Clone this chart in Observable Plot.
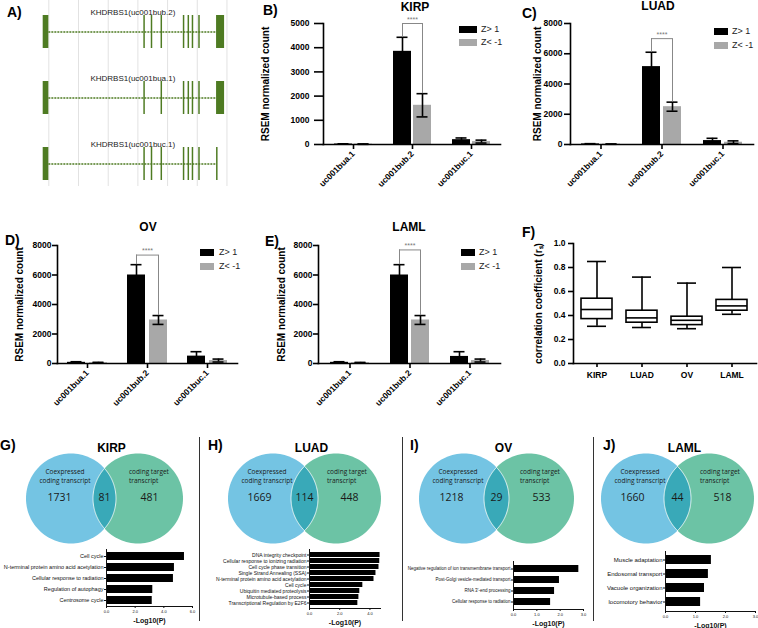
<!DOCTYPE html>
<html><head><meta charset="utf-8">
<script src="https://cdn.jsdelivr.net/npm/d3@7"></script>
<script src="https://cdn.jsdelivr.net/npm/@observablehq/plot@0.6"></script>
<style>
body{margin:0;background:#fff;}
#fig{position:relative;width:758px;height:628px;overflow:hidden;background:#fff;}
#fig svg{position:absolute;overflow:visible;}
#fig .yl g[aria-label="y-axis label"] text, #fig .yl g[aria-label="y-axis label"]{font-size:10px;font-weight:bold;}
#fig .go g[aria-label="x-axis label"] text, #fig .go g[aria-label="x-axis label"]{font-size:7px;font-weight:bold;}
#fig .go g[aria-label="x-axis tick label"]{font-size:4px;}
</style></head>
<body><div id="fig"></div>
<script>
// ---------------- data ----------------
const transcripts = ["uc001bua.1", "uc001bub.2", "uc001buc.1"];
const groups = ["Z> 1", "Z< -1"];

const kirpHigh = [20, 3850, 200], kirpHighErr = [10, 580, 70];
const kirpLow = [15, 1620, 120], kirpLowErr = [8, 480, 60];
const luadHigh = [40, 5150, 260], luadHighErr = [15, 950, 150];
const luadLow = [25, 2500, 150], luadLowErr = [10, 300, 90];
const ovHigh = [80, 6000, 500], ovHighErr = [40, 700, 300];
const ovLow = [50, 2950, 200], ovLowErr = [30, 300, 100];
const lamlHigh = [80, 6000, 480], lamlHighErr = [40, 700, 320];
const lamlLow = [50, 2950, 200], lamlLowErr = [25, 300, 100];
const bracketLevel = [5000, 7000, 7350, 7700];

const cohorts = ["KIRP", "LUAD", "OV", "LAML"];
const boxMin = [0.31, 0.30, 0.29, 0.41];
const boxQ1 = [0.37, 0.34, 0.32, 0.44];
const boxMedian = [0.45, 0.38, 0.36, 0.48];
const boxQ3 = [0.54, 0.44, 0.39, 0.53];
const boxMax = [0.85, 0.72, 0.67, 0.80];

const isoforms = ["KHDRBS1(uc001bub.2)", "KHDRBS1(uc001bua.1)", "KHDRBS1(uc001buc.1)"];
const exonStart = [
  [-0.19, 3.20, 3.45, 3.78, 4.53, 4.69, 4.83, 5.05, 5.65],
  [-0.19, 3.20, 3.78, 4.53, 4.69, 4.83, 5.05, 5.65],
  [-0.19, 3.20, 3.45, 3.78, 4.53, 4.69, 4.83, 5.05, 5.65]
];
const exonEnd = [
  [0, 3.25, 3.50, 3.83, 4.58, 4.74, 4.88, 5.10, 5.92],
  [0, 3.25, 3.83, 4.58, 4.74, 4.88, 5.10, 5.92],
  [0, 3.25, 3.50, 3.83, 4.58, 4.74, 4.88, 5.10, 5.70]
];
const geneGrid = [0, 1, 2, 3, 4, 5, 6];

const vennCoexpressed = [1731, 1669, 1218, 1660];
const vennShared = [81, 114, 29, 44];
const vennTarget = [481, 448, 533, 518];

const goKirpTerms = ["Cell cycle", "N-terminal protein amino acid acetylation", "Cellular response to radiation", "Regulation of autophagy", "Centrosome cycle"];
const goKirpValues = [5.44, 4.74, 4.67, 3.23, 3.19];
const goLuadTerms = ["DNA integrity checkpoint", "Cellular response to ionizing radiation", "Cell cycle phase transition", "Single Strand Annealing (SSA)", "N-terminal protein amino acid acetylation", "Cell cycle", "Ubiquitin mediated proteolysis", "Microtubule-based process", "Transcriptional Regulation by E2F6"];
const goLuadValues = [4.67, 4.65, 4.6, 4.4, 4.27, 3.53, 3.33, 3.27, 3.2];
const goOvTerms = ["Negative regulation of ion transmembrane transport", "Post-Golgi vesicle-mediated transport", "RNA 3'-end processing", "Cellular response to radiation"];
const goOvValues = [2.8, 1.97, 1.76, 1.59];
const goLamlTerms = ["Muscle adaptation", "Endosomal transport", "Vacuole organization", "locomotory behavior"];
const goLamlValues = [1.53, 1.43, 1.3, 1.17];

// ---------------- helpers ----------------
const FONT = '"Liberation Sans", Arial, Helvetica, sans-serif';
const GRAY = "#a8a8a8";
const fig = document.getElementById("fig");
function put(node, left, top, cls) {
  node.style.left = left + "px"; node.style.top = top + "px";
  if (cls) node.classList.add(cls);
  fig.appendChild(node); return node;
}
function txt(s, left, top, css = {}) {
  const d = document.createElement("div");
  d.textContent = s;
  Object.assign(d.style, {position: "absolute", left: left + "px", top: top + "px", lineHeight: "1", whiteSpace: "nowrap", fontFamily: FONT, color: "#000"}, css);
  fig.appendChild(d); return d;
}
const panel = (s, x, y) => txt(s, x, y, {fontSize: "14px", fontWeight: "bold"});
const title = (s, cx, y) => txt(s, cx, y, {fontSize: "12px", fontWeight: "bold", transform: "translateX(-50%)"});
function legend(x, y1, y2, w, tx) {
  [[y1, "#000", groups[0]], [y2, GRAY, groups[1]]].forEach(([y, c, s]) => {
    const b = document.createElement("div");
    Object.assign(b.style, {position: "absolute", left: x + "px", top: y + "px", width: w + "px", height: "7px", background: c});
    fig.appendChild(b);
    txt(s, tx, y - 1, {fontSize: "9px", color: "#222"});
  });
}

// ---------------- A: gene structures ----------------
const exonRows = isoforms.flatMap((iso, k) => exonStart[k].map((s, j) => ({iso, s, e: exonEnd[k][j]})));
const intronRows = isoforms.map((iso, k) => ({iso, s: exonEnd[k][0], e: exonStart[k][exonStart[k].length - 1]}));
const GREEN = "#4e7b22";
const plotA = Plot.plot({
  width: 250, height: 186, marginLeft: 42.4, marginRight: 17.6, marginTop: 0, marginBottom: 0,
  style: {fontFamily: FONT, fontSize: "8px", background: "transparent", color: "#222"},
  x: {domain: [-0.2, 6.2], axis: null},
  y: {domain: isoforms, paddingInner: 0.5, paddingOuter: 0.159, align: 0.71, axis: null},
  marks: [
    Plot.ruleX(geneGrid, {stroke: "#e2e2e2", strokeWidth: 1}),
    Plot.ruleY(intronRows, {y: "iso", x1: "s", x2: "e", stroke: GREEN, strokeWidth: 1.4, strokeDasharray: "2,1"}),
    Plot.barX(exonRows, {y: "iso", x1: "s", x2: "e", fill: GREEN}),
    Plot.text(isoforms, {y: d => d, text: d => d, dy: -20, dx: -5, fill: "#222"})
  ]
});
put(plotA, 0, 0);
panel("A)", 7, 5);

// ---------------- B-E: expression bars ----------------
function expressionChart(cfg) {
  const rows = transcripts.map((t, i) => ({t, high: cfg.high[i], highErr: cfg.highErr[i], low: cfg.low[i], lowErr: cfg.lowErr[i]}));
  const sig = [{t: transcripts[1], top: cfg.bracket, leftFrom: cfg.high[1] + cfg.highErr[1], rightFrom: cfg.low[1] + cfg.lowErr[1]}];
  const {width, height, ml, mr, mt, mb, barW, gap} = cfg;
  const bw = 2 * barW + gap;
  const step = (width - ml - mr) / transcripts.length;
  const pin = 1 - bw / step;
  const off = (barW + gap) / 2;
  const cap = 11;
  const hiCap = {insetLeft: barW / 2 - cap / 2, insetRight: bw - barW / 2 - cap / 2};
  const loCap = {insetLeft: bw - barW / 2 - cap / 2, insetRight: barW / 2 - cap / 2};
  const sw = 1.6;
  return Plot.plot({
    width, height, marginLeft: ml, marginRight: mr, marginTop: mt, marginBottom: mb,
    style: {fontFamily: FONT, fontSize: "8.5px", fontWeight: "bold", background: "transparent", color: "#000"},
    x: {type: "band", domain: transcripts, paddingInner: pin, paddingOuter: pin / 2},
    y: {domain: [0, cfg.yMax]},
    marks: [
      Plot.barY(rows, {x: "t", y: "high", fill: "#000", insetRight: barW + gap}),
      Plot.barY(rows, {x: "t", y: "low", fill: GRAY, insetLeft: barW + gap}),
      Plot.ruleX(rows, {x: "t", y1: d => d.high - d.highErr, y2: d => d.high + d.highErr, dx: -off, stroke: "#000", strokeWidth: sw}),
      Plot.ruleX(rows, {x: "t", y1: d => d.low - d.lowErr, y2: d => d.low + d.lowErr, dx: off, stroke: "#000", strokeWidth: sw}),
      Plot.tickY(rows, {x: "t", y: d => d.high + d.highErr, ...hiCap, stroke: "#000", strokeWidth: sw}),
      Plot.tickY(rows, {x: "t", y: d => d.low + d.lowErr, ...loCap, stroke: "#000", strokeWidth: sw}),
      Plot.tickY(rows, {x: "t", y: d => d.low - d.lowErr, ...loCap, stroke: "#000", strokeWidth: sw}),
      Plot.ruleX(sig, {x: "t", y1: "leftFrom", y2: "top", dx: -off, stroke: "#888", strokeWidth: 1}),
      Plot.ruleX(sig, {x: "t", y1: "rightFrom", y2: "top", dx: off, stroke: "#888", strokeWidth: 1}),
      Plot.tickY(sig, {x: "t", y: "top", insetLeft: barW / 2, insetRight: barW / 2, stroke: "#888", strokeWidth: 1}),
      Plot.text(sig, {x: "t", y: "top", text: () => "****", dy: -4, fill: "#777", fontSize: 7, fontWeight: "normal"}),
      Plot.axisY({ticks: cfg.yTicks, tickFormat: "d", tickSize: cfg.tickSize, tickPadding: cfg.tickPadding, strokeWidth: sw,
        label: "RSEM normalized count", labelAnchor: "center", labelArrow: "none", labelOffset: cfg.labelOffset}),
      Plot.axisX({tickRotate: -45, tickSize: 5, tickPadding: 3, strokeWidth: sw, label: null}),
      Plot.frame({anchor: "left", strokeWidth: sw}),
      Plot.frame({anchor: "bottom", strokeWidth: sw})
    ]
  });
}
const ticks5k = [0, 1000, 2000, 3000, 4000, 5000];
const ticks8k = [0, 2000, 4000, 6000, 8000];

put(expressionChart({high: kirpHigh, highErr: kirpHighErr, low: kirpLow, lowErr: kirpLowErr, bracket: bracketLevel[0],
  yMax: 5000, yTicks: ticks5k, width: 258, height: 200, ml: 73, mr: 8, mt: 23, mb: 56, barW: 18, gap: 2,
  tickSize: 9, tickPadding: 5, labelOffset: 62}), 250, 0, "yl");
put(expressionChart({high: luadHigh, highErr: luadHighErr, low: luadLow, lowErr: luadLowErr, bracket: bracketLevel[1],
  yMax: 8000, yTicks: ticks8k, width: 253, height: 200, ml: 65, mr: 5, mt: 23, mb: 56, barW: 18, gap: 3,
  tickSize: 6, tickPadding: 2, labelOffset: 37}), 505, 0, "yl");
put(expressionChart({high: ovHigh, highErr: ovHighErr, low: ovLow, lowErr: ovLowErr, bracket: bracketLevel[2],
  yMax: 8000, yTicks: ticks8k, width: 250, height: 200, ml: 57, mr: 13, mt: 23, mb: 59, barW: 18, gap: 4,
  tickSize: 5, tickPadding: 1, labelOffset: 42}), 0, 222, "yl");
put(expressionChart({high: lamlHigh, highErr: lamlHighErr, low: lamlLow, lowErr: lamlLowErr, bracket: bracketLevel[3],
  yMax: 8000, yTicks: ticks8k, width: 258, height: 200, ml: 68, mr: 8, mt: 23, mb: 59, barW: 18, gap: 3,
  tickSize: 5, tickPadding: 1, labelOffset: 41}), 250, 222, "yl");

panel("B)", 263, 3); title("KIRP", 415, 1);
panel("C)", 522, 6); title("LUAD", 658, 0);
panel("D)", 5, 233); title("OV", 148, 221);
panel("E)", 265, 234); title("LAML", 409, 221);
legend(459, 26, 39, 18, 481);
legend(714, 28, 42, 14, 732);
legend(200, 249, 263, 14, 219);
legend(461, 249, 263, 14, 479);

// ---------------- F: box plot ----------------
const boxRows = cohorts.map((c, i) => ({c, min: boxMin[i], q1: boxQ1[i], med: boxMedian[i], q3: boxQ3[i], max: boxMax[i]}));
const plotF = Plot.plot({
  width: 253, height: 240, marginLeft: 68, marginRight: 2, marginTop: 83, marginBottom: 37,
  style: {fontFamily: FONT, fontSize: "8.5px", fontWeight: "bold", background: "transparent", color: "#000"},
  x: {type: "band", domain: cohorts, paddingInner: 0.3, paddingOuter: 0.15},
  y: {domain: [0, 1]},
  marks: [
    Plot.ruleX(boxRows, {x: "c", y1: "min", y2: "q1", strokeWidth: 1.6}),
    Plot.ruleX(boxRows, {x: "c", y1: "q3", y2: "max", strokeWidth: 1.6}),
    Plot.barY(boxRows, {x: "c", y1: "q1", y2: "q3", fill: "white", stroke: "#000", strokeWidth: 1.6}),
    Plot.tickY(boxRows, {x: "c", y: "med", strokeWidth: 1.6}),
    Plot.tickY(boxRows, {x: "c", y: "max", insetLeft: 6, insetRight: 6, strokeWidth: 1.6}),
    Plot.tickY(boxRows, {x: "c", y: "min", insetLeft: 6, insetRight: 6, strokeWidth: 1.6}),
    Plot.axisY({ticks: [0, 0.2, 0.4, 0.6, 0.8, 1.0], tickFormat: ".1f", tickSize: 5, tickPadding: 3, strokeWidth: 1.6,
      label: "correlation coefficient (rₛ)", labelAnchor: "center", labelArrow: "none", labelOffset: 39}),
    Plot.axisX({tickSize: 4, tickPadding: 4, strokeWidth: 1.6, label: null}),
    Plot.frame({anchor: "left", strokeWidth: 1.6}),
    Plot.frame({anchor: "bottom", strokeWidth: 1.6})
  ]
});
put(plotF, 505, 160, "yl");
panel("F)", 522, 225);

// ---------------- G-J: Venn diagrams ----------------
const R = 45;
const vennPanels = [
  {mid: 103.5, d: 67, name: "KIRP", letter: "G)", lx: 0},
  {mid: 303.5, d: 63, name: "LUAD", letter: "H)", lx: 208},
  {mid: 495.5, d: 65, name: "OV", letter: "I)", lx: 410},
  {mid: 676.5, d: 63, name: "LAML", letter: "J)", lx: 603}
];
function arc(cx, a0, a1, n = 60) {
  return d3.range(n + 1).map(k => { const a = a0 + (a1 - a0) * k / n; return {x: cx + R * Math.cos(a), y: R * Math.sin(a)}; });
}
vennPanels.forEach((p, i) => {
  const th = Math.acos((p.d / 2) / R);
  const blue = arc(-p.d / 2, 0, 2 * Math.PI, 120);
  const green = arc(p.d / 2, 0, 2 * Math.PI, 120);
  const lens = [...arc(-p.d / 2, -th, th), ...arc(p.d / 2, Math.PI - th, Math.PI + th)];
  const svg = Plot.plot({
    width: 200, height: 100, margin: 0,
    style: {fontFamily: '"Open Sans", "Liberation Sans", sans-serif', background: "transparent", color: "#1a1a1a"},
    x: {domain: [-100, 100], axis: null},
    y: {domain: [-50, 50], axis: null},
    marks: [
      Plot.line(blue, {x: "x", y: "y", fill: "#74c4e3", stroke: "none"}),
      Plot.line(green, {x: "x", y: "y", fill: "#6cc3a5", stroke: "none"}),
      Plot.line(lens, {x: "x", y: "y", fill: "#39a9b8", stroke: "white", strokeWidth: 0.8}),
      Plot.text(["Coexpressed", "coding transcript"], {x: -p.d / 2 - 6, y: (d, j) => j ? 18 : 26.5, text: d => d, fontSize: 6.5}),
      Plot.text(["coding target", "transcript"], {x: p.d / 2 - 9, y: (d, j) => j ? 18 : 26.5, text: d => d, fontSize: 6.5, textAnchor: "start"}),
      Plot.text([vennCoexpressed[i]], {x: -R, y: 1, text: d => String(d), fontSize: 10.5}),
      Plot.text([vennShared[i]], {x: 0, y: 1, text: d => String(d), fontSize: 10.5}),
      Plot.text([vennTarget[i]], {x: R, y: 1, text: d => String(d), fontSize: 10.5})
    ]
  });
  put(svg, p.mid - 100, 448);
  panel(p.letter, p.lx, 438);
  title(p.name, p.mid + 8, 442);
});

// dividers
[199, 402, 593].forEach(x => {
  const d = document.createElement("div");
  Object.assign(d.style, {position: "absolute", left: x + "px", top: "437px", width: "1px", height: "184px", background: "#333"});
  fig.appendChild(d);
});

// ---------------- G-J: GO enrichment bars ----------------
function goChart(c) {
  const rows = c.terms.map((term, i) => ({term, v: c.values[i]}));
  return Plot.plot({
    width: c.width, height: c.height, marginLeft: c.ml, marginRight: c.mr, marginTop: c.mt, marginBottom: c.mb,
    style: {fontFamily: FONT, fontSize: c.fs + "px", background: "transparent", color: "#111"},
    x: {domain: [0, c.xMax]},
    y: {type: "band", domain: c.terms, paddingInner: c.pin, paddingOuter: c.pout},
    marks: [
      Plot.barX(rows, {y: "term", x: "v", fill: "#000"}),
      Plot.axisY({tickSize: 2, tickPadding: 1, label: null}),
      Plot.axisX({ticks: c.ticks, tickSize: 2, tickPadding: 2, label: "-Log10(P)", labelAnchor: "center", labelArrow: "none", labelOffset: c.lo}),
      Plot.frame({anchor: "left"}),
      Plot.frame({anchor: "bottom"})
    ]
  });
}
put(goChart({terms: goKirpTerms, values: goKirpValues, xMax: 6, ticks: [0, 2, 4, 6], width: 199, height: 83, ml: 106, mr: 7, mt: 4, mb: 22, pin: 0.3, pout: 0.13, fs: 5.5, lo: 16}), 0, 545, "go");
put(goChart({terms: goLuadTerms, values: goLuadValues, xMax: 4.7, ticks: [0, 2, 4], width: 200, height: 83, ml: 109, mr: 20, mt: 4, mb: 20, pin: 0.2, pout: 0.1, fs: 5, lo: 16}), 200, 545, "go");
put(goChart({terms: goOvTerms, values: goOvValues, xMax: 3, ticks: [0, 1, 2, 3], width: 190, height: 83, ml: 110, mr: 10, mt: 16, mb: 19, pin: 0.32, pout: 0.2, fs: 4.5, lo: 16}), 403, 545, "go");
put(goChart({terms: goLamlTerms, values: goLamlValues, xMax: 3, ticks: [0, 1, 2, 3], width: 164, height: 83, ml: 71, mr: 3, mt: 6, mb: 17, pin: 0.33, pout: 0.17, fs: 6, lo: 16}), 594, 545, "go");
</script>
</body></html>
